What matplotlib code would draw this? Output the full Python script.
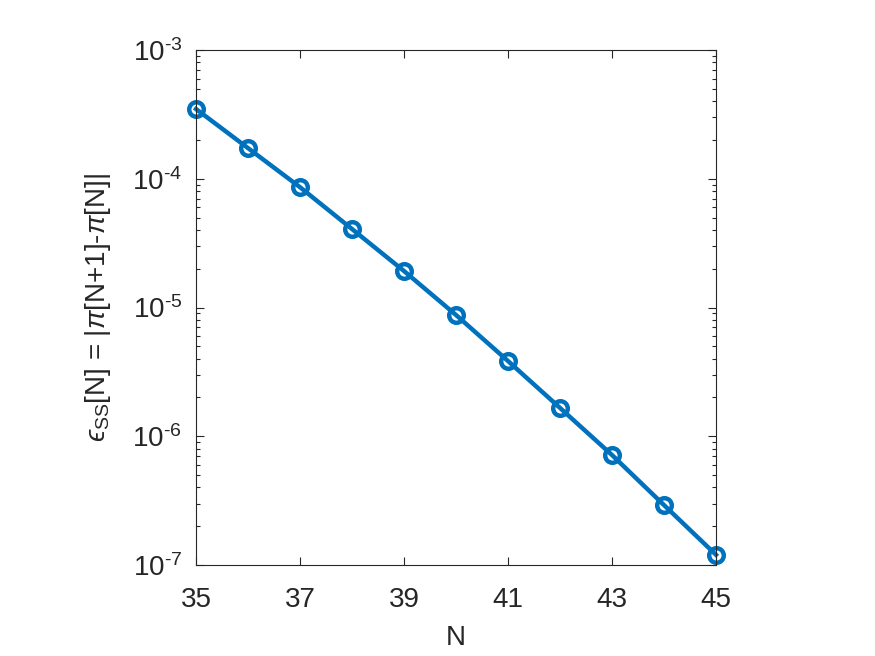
import numpy as np
import matplotlib
matplotlib.use('Agg')
import matplotlib.pyplot as plt
from matplotlib.ticker import LogLocator, NullFormatter, FuncFormatter

plt.rcParams['font.family'] = ['Liberation Sans', 'DejaVu Sans']
plt.rcParams['mathtext.fontset'] = 'custom'
plt.rcParams['mathtext.rm'] = 'Liberation Sans'
plt.rcParams['mathtext.it'] = 'Liberation Sans:italic'
plt.rcParams['axes.unicode_minus'] = False

# values
n_values = [35, 36, 37, 38, 39, 40, 41, 42, 43, 44, 45]
err_ss = [3.48e-4, 1.73e-4, 8.6e-5, 4.07e-5, 1.92e-5, 8.75e-6,
          3.84e-6, 1.66e-6, 7.15e-7, 2.92e-7, 1.20e-7]
x_ticks = [35, 37, 39, 41, 43, 45]
y_label = '$\u03f5_{\\mathrm{SS}}$[N] = |$\\pi$[N+1]-$\\pi$[N]|'


def pow_label(v, pos):
    e = int(round(np.log10(v)))
    return r'$\mathrm{10}^{\text{%d}}$' % e


fig = plt.figure(figsize=(8.75, 6.56), dpi=100)
ax = fig.add_axes([196/875, 1 - 565/656, (716 - 196)/875, (565 - 50)/656])

ax.semilogy(n_values, err_ss, color='#0072BD', linewidth=3.2,
            marker='o', markersize=10.5, markerfacecolor='none',
            markeredgewidth=3.2, clip_on=False)

ax.set_xlim(35, 45)
ax.set_ylim(1e-7, 1e-3)
ax.set_xticks(x_ticks)
ax.yaxis.set_major_locator(LogLocator(base=10, numticks=10))
ax.yaxis.set_major_formatter(FuncFormatter(pow_label))
ax.yaxis.set_minor_locator(LogLocator(base=10, subs=np.arange(2, 10), numticks=20))
ax.yaxis.set_minor_formatter(NullFormatter())

ax.tick_params(which='both', direction='in', top=True, right=True,
               labelsize=20, colors='#262626', width=0.8)
ax.tick_params(which='major', length=6)
ax.tick_params(which='minor', length=3)
ax.tick_params(axis='x', which='major', pad=16)
ax.tick_params(axis='y', which='major', pad=10)
for s in ax.spines.values():
    s.set_color('#262626')
    s.set_linewidth(0.8)

ax.set_xlabel('N', fontsize=20, color='#262626', labelpad=8.5)
ax.set_ylabel(y_label, fontsize=20, color='#262626', labelpad=14)

fig.savefig('out.png', dpi=100)
